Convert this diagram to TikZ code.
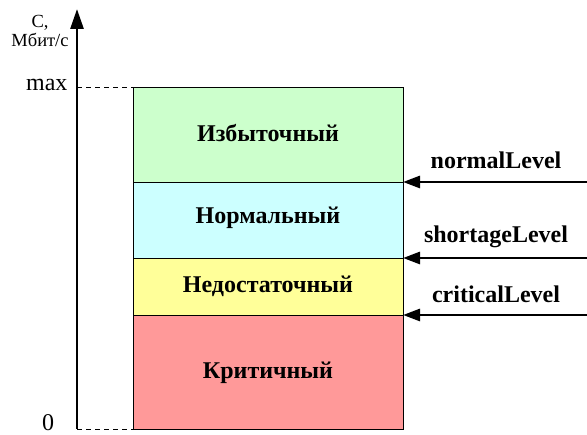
\documentclass[tikz,border=0pt]{standalone}
\usepackage{fontspec}
\setmainfont{Liberation Serif}
\usetikzlibrary{arrows.meta}
\definecolor{cgreen}{HTML}{CCFFCC}
\definecolor{ccyan}{HTML}{CCFFFF}
\definecolor{cyellow}{HTML}{FFFF99}
\definecolor{cred}{HTML}{FF9999}
\begin{document}
\begin{tikzpicture}[x=1pt,y=-1pt,
  band/.style={draw=black, line width=0.8pt},
  bandtext/.style={font=\fontsize{24}{26}\selectfont\bfseries},
  lvltext/.style={font=\fontsize{24}{26}\selectfont\bfseries},
  levelarrow/.style={line width=2.8pt, -{Triangle[length=17pt,width=12pt]}},
  guide/.style={dashed, line width=0.8pt, dash pattern=on 5pt off 4pt},
  ticktext/.style={font=\fontsize{24}{26}\selectfont}]
\useasboundingbox (0,0) rectangle (587,435);
% bands
\filldraw[band, fill=cgreen]  (133,87)  rectangle (403,182);
\filldraw[band, fill=ccyan]   (133,182) rectangle (403,258);
\filldraw[band, fill=cyellow] (133,258) rectangle (403,315);
\filldraw[band, fill=cred]    (133,315) rectangle (403,429);
\node[bandtext] (b1) at (268,133) {Избыточный};
\node[bandtext] (b2) at (268,218) {Нормальный};
\node[bandtext] (b3) at (268,286) {Недостаточный};
\node[bandtext] (b4) at (268,373) {Критичный};
% axis
\coordinate (a0) at (77,429);
\coordinate (atop) at (77,9);
\draw[line width=2.8pt, -{Triangle[length=20pt,width=13pt]}] (a0) -- (atop);
\node[font=\fontsize{18.5}{19}\selectfont, align=center] (alab) at (40,31) {C,\\Мбит/с};
% guides
\coordinate (gmax) at (133,87);
\coordinate (g0) at (133,429);
\coordinate (amax) at (77,87);
\draw[guide] (amax) -- (gmax);
\draw[guide] (a0) -- (g0);
\node[ticktext, anchor=east] (tmax) at (71,85) {max};
\node[ticktext, anchor=base, inner sep=0pt] (t0) at (48,431) {0};
% level arrows
\coordinate (s1) at (587,182);
\coordinate (e1) at (403,182);
\coordinate (s2) at (587,258);
\coordinate (e2) at (403,258);
\coordinate (s3) at (587,315);
\coordinate (e3) at (403,315);
\draw[levelarrow] (s1) -- (e1);
\draw[levelarrow] (s2) -- (e2);
\draw[levelarrow] (s3) -- (e3);
\node[lvltext] (l1) at (496,160) {normalLevel};
\node[lvltext] (l2) at (496,237) {shortageLevel};
\node[lvltext] (l3) at (496,294) {criticalLevel};
\end{tikzpicture}
\end{document}
